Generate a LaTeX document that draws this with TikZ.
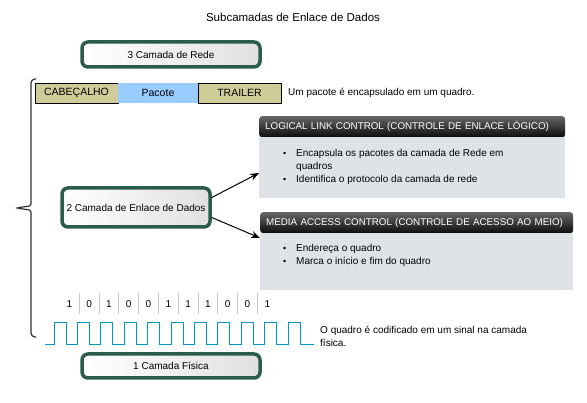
\documentclass[tikz,border=0pt]{standalone}
\usepackage{fontspec}
\setmainfont{Liberation Sans}
\usetikzlibrary{arrows.meta, positioning}

\definecolor{boxgreen}{RGB}{42,92,78}
\definecolor{khaki}{RGB}{206,204,152}
\definecolor{pktblue}{RGB}{153,204,255}
\definecolor{bodygray}{RGB}{223,227,231}
\definecolor{wireblue}{RGB}{0,150,200}
\definecolor{tickgray}{RGB}{200,200,200}

\tikzset{
  layerbox/.style={rectangle, draw=boxgreen, line width=3.5pt, rounded corners=6pt,
    left color=white, right color=black!12, font=\fontsize{10}{12}\selectfont},
  framecell/.style={rectangle, minimum height=20pt, outer sep=0pt, inner sep=0pt,
    font=\fontsize{10.5}{12}\selectfont},
  headbar/.style={rectangle, anchor=north west, rounded corners=3pt, top color=black!60,
    bottom color=black!95, text=white, align=left, inner xsep=6pt, minimum height=21pt,
    font=\fontsize{9.8}{12}\selectfont},
  bodypanel/.style={rectangle, anchor=north west, fill=bodygray, inner sep=0pt},
  bullettext/.style={anchor=north west, align=left, inner sep=0pt,
    font=\fontsize{10}{12.8}\selectfont},
  plaintext/.style={align=left, inner sep=0pt, font=\fontsize{10}{13}\selectfont},
  bitlabel/.style={font=\fontsize{10}{12}\selectfont, inner sep=0pt},
}

\newcommand{\bul}{\makebox[13pt][l]{\small\textbullet}}

\begin{document}
\begin{tikzpicture}[x=1pt, y=-1pt]
  \useasboundingbox (0,0) rectangle (587,403);

  % Title
  \node[font=\fontsize{11.5}{14}\selectfont] (title) at (293,17) {Subcamadas de Enlace de Dados};

  % Layer 3
  \node[layerbox, minimum width=178pt, minimum height=25pt] (rede) at (171,54.5) {3 Camada de Rede};

  % Brace round the data link layer
  \draw[line width=1.2pt, black!80, rounded corners=4pt] (36,79) -- (31,79) -- (31,200)
    .. controls (31,206) .. (15,208) .. controls (31,210) .. (31,216) -- (31,337) -- (36,337);

  % Frame: header, packet, trailer
  \node[framecell, draw, fill=khaki, minimum width=83pt] (cab) at (76.5,93) {CABEÇALHO};
  \node[framecell, fill=pktblue, minimum width=80pt, right=0pt of cab] (pacote) {Pacote};
  \node[framecell, draw, fill=khaki, minimum width=83pt, right=0pt of pacote] (trailer) {TRAILER};
  \node[plaintext, anchor=west] (encap) at (288,93) {Um pacote é encapsulado em um quadro.};

  % Layer 2
  \node[layerbox, minimum width=148pt, minimum height=39pt] (enlace) at (136,207.5) {2 Camada de Enlace de Dados};

  % LLC sublayer
  \node[bodypanel, minimum width=306pt, minimum height=64pt] (llcbody) at (259,134) {};
  \node[headbar, text width=294pt] (llc) at (259,116) {\mbox{LOGICAL LINK CONTROL (CONTROLE DE ENLACE LÓGICO)}};
  \node[bodypanel, minimum width=306pt, minimum height=61pt] at (259,137) {};
  \node[bullettext] (llctext) at (283,149) {\bul Encapsula os pacotes da camada de Rede em\\
    \hspace*{13pt}quadros\\
    \bul Identifica o protocolo da camada de rede};

  % MAC sublayer
  \node[headbar, text width=301pt] (mac) at (260,212) {\mbox{MEDIA ACCESS CONTROL (CONTROLE DE ACESSO AO MEIO)}};
  \node[bodypanel, minimum width=313pt, minimum height=57pt] (macbody) at (260,233) {};
  \node[bullettext] (mactext) at (283,244) {\bul Endereça o quadro\\
    \bul Marca o início e fim do quadro};

  % Arrows to the sublayers
  \draw[-{Stealth[length=9pt, width=7pt]}, line width=1pt] (enlace.east) ++(0,-10) coordinate (a1) -- (llcbody.west |- 0,173);
  \draw[-{Stealth[length=9pt, width=7pt]}, line width=1pt] (enlace.east) ++(0,10) coordinate (a2) -- (macbody.west |- 0,238);

  % Bits
  \foreach \b [count=\i] in {1,0,1,0,0,1,1,1,0,0,1} {
    \node[bitlabel] (bit\i) at (49.5+19.8*\i,304) {\b};
  }
  \foreach \i in {1,...,10} {
    \draw[tickgray, line width=0.8pt] (59.4+19.8*\i,293) -- (59.4+19.8*\i,314);
  }

  % Square wave
  \draw[wireblue, line width=1pt] (45,345)
    \foreach \k in {0,...,10} {
      -- (54+23.4*\k,345) -- (54+23.4*\k,323) -- (66+23.4*\k,323) -- (66+23.4*\k,345)
    } -- (314,345);
  \node[plaintext, anchor=north west] (sinal) at (320,326) {O quadro é codificado em um sinal na camada\\física.};

  % Layer 1
  \node[layerbox, minimum width=178pt, minimum height=24pt] (fisica) at (171,366) {1 Camada Física};
\end{tikzpicture}
\end{document}
